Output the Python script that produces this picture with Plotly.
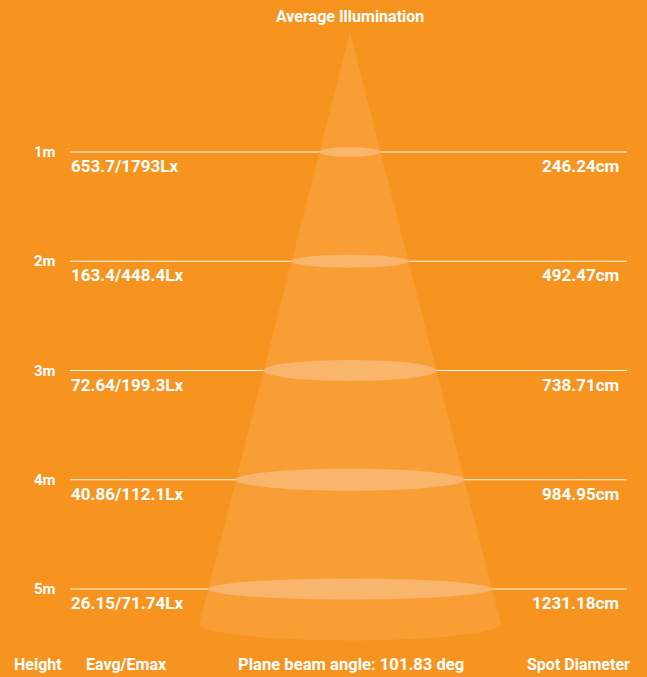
import numpy as np
import plotly.graph_objects as go

# ---- data ----
heights_m = [1, 2, 3, 4, 5]
height_labels = ["1m", "2m", "3m", "4m", "5m"]
illum_labels = ["653.7/1793Lx", "163.4/448.4Lx", "72.64/199.3Lx", "40.86/112.1Lx", "26.15/71.74Lx"]
spot_labels = ["246.24cm", "492.47cm", "738.71cm", "984.95cm", "1231.18cm"]
title_text = "Average Illumination"
footer_labels = ["Height", "Eavg/Emax", "Plane beam angle: 101.83 deg", "Spot Diameter"]

# ---- styling / geometry ----
W, H = 647, 677
BG = "#F7941F"
CONE = "#F89E35"
ELL = "#F9B56B"
FONT = "Roboto"
PX_PER_M = 109.25
Y1_PX = 152.0                      # pixel row of 1 m
def px_to_m(py):
    return 1 + (py - Y1_PX) / PX_PER_M

CX = 350.0
APEX_H = px_to_m(32)
BASE_H = px_to_m(624)
BASE_HALF = 151.0
BASE_RY_PX = 16.5
ell_thick_px = [10, 13, 21, 22, 21]

def half_width(h):
    return BASE_HALF * (h - APEX_H) / (BASE_H - APEX_H)

fig = go.Figure()

# cone polygon (apex -> base half-ellipse)
t = np.linspace(np.pi, 0, 80)
bx = CX + BASE_HALF * np.cos(t)
by = BASE_H + (BASE_RY_PX / PX_PER_M) * np.sin(t)
cone_x = np.concatenate([[CX], bx, [CX]])
cone_y = np.concatenate([[APEX_H], by, [APEX_H]])
fig.add_trace(go.Scatter(x=cone_x, y=cone_y, mode="lines", fill="toself",
                         fillcolor=CONE, line=dict(width=0, color=CONE),
                         hoverinfo="skip", showlegend=False))

shapes = []
annotations = []
for i, h in enumerate(heights_m):
    shapes.append(dict(type="line", xref="x", yref="y", x0=70, x1=627, y0=h, y1=h,
                       line=dict(color="rgba(255,255,255,0.95)", width=1), layer="below"))
    hw = half_width(h)
    shapes.append(dict(type="circle", xref="x", yref="y", x0=CX - hw, x1=CX + hw,
                       ysizemode="pixel", yanchor=h,
                       y0=-ell_thick_px[i] / 2, y1=ell_thick_px[i] / 2,
                       fillcolor=ELL, line=dict(width=0), layer="above"))
    annotations.append(dict(x=58, y=h, xref="x", yref="y", text=height_labels[i],
                            xanchor="right", yanchor="middle", showarrow=False,
                            font=dict(family=FONT, size=15, color="white", weight="bold")))
    annotations.append(dict(x=69, y=h, xref="x", yref="y", text=illum_labels[i],
                            xanchor="left", yanchor="middle", yshift=-14, showarrow=False,
                            font=dict(family=FONT, size=17, color="white", weight="bold")))
    annotations.append(dict(x=621, y=h, xref="x", yref="y", text=spot_labels[i],
                            xanchor="right", yanchor="middle", yshift=-14, showarrow=False,
                            font=dict(family=FONT, size=17, color="white", weight="bold")))

annotations.append(dict(x=CX, y=px_to_m(16), xref="x", yref="y", text=title_text,
                        xanchor="center", yanchor="middle", showarrow=False,
                        font=dict(family=FONT, size=16, color="white", weight="bold")))
footer_x = [12, 84, CX + 0.5, 632]
footer_anchor = ["left", "left", "center", "right"]
footer_size = [16, 16, 16.6, 16]
for lbl, fx, fa, fs in zip(footer_labels, footer_x, footer_anchor, footer_size):
    annotations.append(dict(x=fx, y=px_to_m(664), xref="x", yref="y", text=lbl,
                            xanchor=fa, yanchor="middle", showarrow=False,
                            font=dict(family=FONT, size=fs, color="white", weight="bold")))

fig.update_layout(
    width=W, height=H, margin=dict(l=0, r=0, t=0, b=0),
    paper_bgcolor=BG, plot_bgcolor=BG,
    xaxis=dict(range=[0, W], visible=False, fixedrange=True),
    yaxis=dict(range=[px_to_m(H), px_to_m(0)], visible=False, fixedrange=True),
    shapes=shapes, annotations=annotations, showlegend=False,
)
fig.write_html("out.html", config={"displayModeBar": False},
               post_script="document.body.style.margin='0';document.body.style.overflow='hidden';document.body.style.background='" + BG + "';")
